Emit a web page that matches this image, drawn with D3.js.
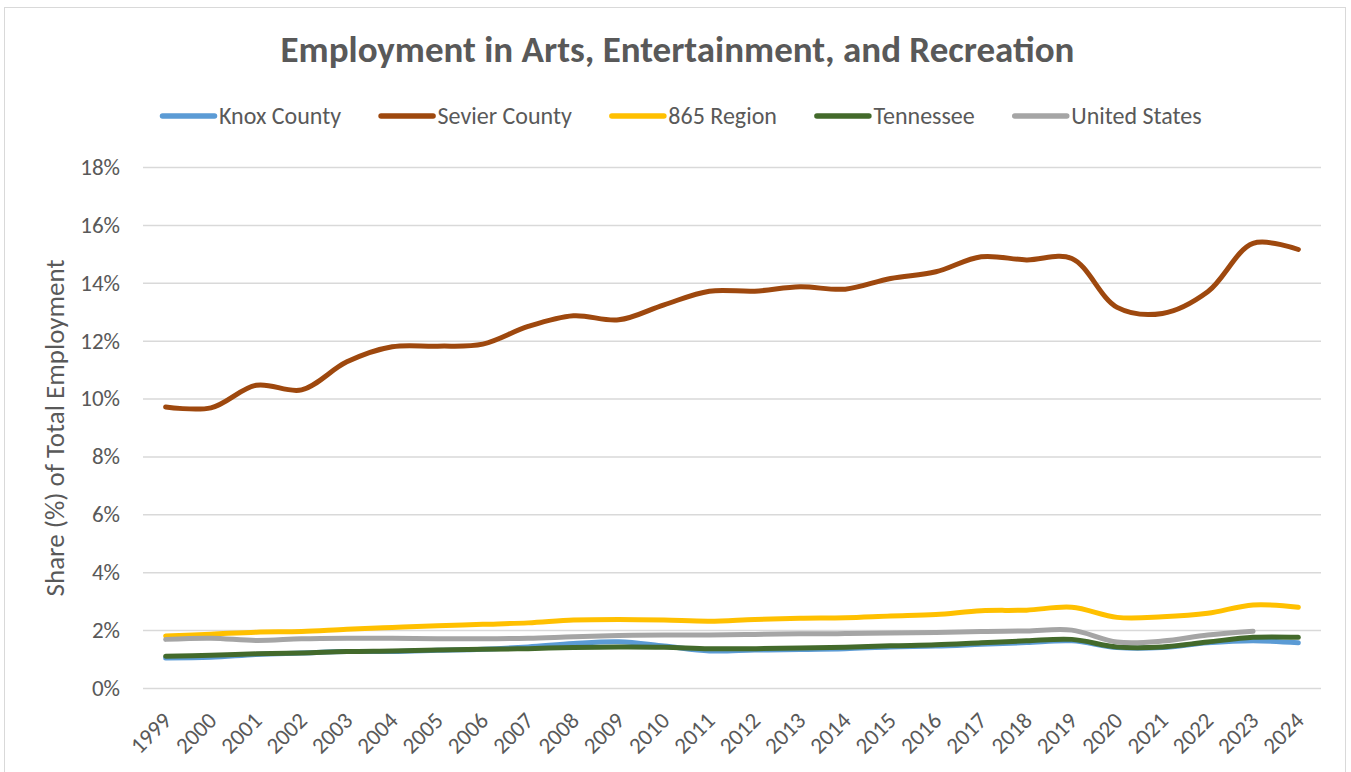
<!DOCTYPE html>
<html>
<head>
<meta charset="utf-8">
<script src="https://cdn.jsdelivr.net/npm/d3@7"></script>
<style>
  body { margin: 0; background: #fff; }
  svg text { font-family: Carlito, Calibri, Lato, "Open Sans", sans-serif; fill: #595959; }
</style>
</head>
<body>
<svg id="chart"></svg>
<script>
// data (percent of total employment)
var years = ["1999","2000","2001","2002","2003","2004","2005","2006","2007","2008","2009","2010","2011",
             "2012","2013","2014","2015","2016","2017","2018","2019","2020","2021","2022","2023","2024"];

var knox = [1.04,1.06,1.16,1.21,1.26,1.26,1.30,1.34,1.42,1.54,1.60,1.45,1.28,
            1.31,1.33,1.36,1.42,1.45,1.51,1.57,1.63,1.40,1.40,1.56,1.63,1.56];
var sevier = [9.71,9.68,10.46,10.30,11.27,11.79,11.81,11.88,12.49,12.86,12.72,13.24,13.71,
              13.71,13.86,13.78,14.15,14.38,14.90,14.79,14.84,13.15,12.94,13.69,15.36,15.15];
var region865 = [1.80,1.86,1.93,1.95,2.03,2.09,2.15,2.20,2.25,2.35,2.37,2.35,2.31,
                 2.37,2.41,2.43,2.49,2.54,2.67,2.69,2.79,2.44,2.46,2.58,2.87,2.79];
var tennessee = [1.10,1.13,1.18,1.21,1.26,1.28,1.31,1.34,1.36,1.40,1.42,1.41,1.36,
                 1.36,1.38,1.41,1.46,1.49,1.56,1.63,1.68,1.42,1.42,1.59,1.75,1.75];
var unitedStates = [1.68,1.72,1.64,1.70,1.72,1.72,1.70,1.70,1.72,1.77,1.81,1.83,1.83,
                    1.85,1.87,1.88,1.90,1.92,1.95,1.97,2.00,1.59,1.62,1.83,1.96,null];

var seriesNames = ["Knox County","Sevier County","865 Region","Tennessee","United States"];
var seriesColors = ["#5b9bd5","#9e480e","#ffc000","#436a2b","#a5a5a5"];
var yTicks = [0,2,4,6,8,10,12,14,16,18];

var series = [knox, sevier, region865, tennessee, unitedStates].map(function(vals, i) {
  return { name: seriesNames[i], color: seriesColors[i],
           values: vals.map(function(v, j) { return { year: years[j], v: v }; }) };
});

var W = 1351, H = 772;
var margin = {top: 167, left: 143};
var width = 1321 - margin.left,
    height = 688 - margin.top;

var svg = d3.select("#chart").attr("width", W).attr("height", H);

// chart frame
svg.append("rect")
  .attr("x", 4.5).attr("y", 7.5)
  .attr("width", 1341).attr("height", 780)
  .attr("fill", "#fff").attr("stroke", "#d9d9d9").attr("stroke-width", 1);

svg.append("text")
  .attr("x", 677.5).attr("y", 62)
  .attr("text-anchor", "middle")
  .style("font-size", "37px").style("font-weight", "bold")
  .text("Employment in Arts, Entertainment, and Recreation");

var g = svg.append("g").attr("transform", "translate(" + margin.left + "," + margin.top + ")");

var x = d3.scaleBand().domain(years).range([0, width]);
var y = d3.scaleLinear().domain([0, 18]).range([height, 0]);

// gridlines + y labels
g.append("g")
  .call(d3.axisLeft(y).tickValues(yTicks).tickSize(-width).tickFormat(function(d) { return d + "%"; }))
  .call(function(a) {
    a.select(".domain").remove();
    a.selectAll(".tick line").attr("stroke", "#d9d9d9").attr("stroke-width", 1.5);
    a.selectAll(".tick text").attr("x", -23).style("font-size", "23px").attr("fill", "#595959");
  });

g.append("g")
  .attr("transform", "translate(0," + height + ")")
  .call(d3.axisBottom(x).tickSize(0))
  .call(function(a) {
    a.select(".domain").remove();
    a.selectAll(".tick text")
      .attr("text-anchor", "end")
      .attr("transform", "translate(7,34) rotate(-45)")
      .attr("x", 0).attr("y", 0).attr("dy", 0)
      .style("font-size", "23px").attr("fill", "#595959");
  });

svg.append("text")
  .attr("transform", "translate(64,428) rotate(-90)")
  .attr("text-anchor", "middle")
  .style("font-size", "27px")
  .text("Share (%) of Total Employment");

var line = d3.line()
  .defined(function(d) { return d.v != null; })
  .x(function(d) { return x(d.year) + x.bandwidth() / 2; })
  .y(function(d) { return y(d.v); })
  .curve(d3.curveCatmullRom.alpha(0.5));

g.selectAll(".serie")
  .data(series)
  .enter().append("path")
    .attr("class", "serie")
    .attr("d", function(d) { return line(d.values); })
    .attr("fill", "none")
    .attr("stroke", function(d) { return d.color; })
    .attr("stroke-width", 5)
    .attr("stroke-linecap", "round")
    .attr("stroke-linejoin", "round");

// legend
var legend = svg.append("g").attr("transform", "translate(160,116)");
var lx = 0;
series.forEach(function(s) {
  var item = legend.append("g").attr("transform", "translate(" + lx + ",0)");
  item.append("line")
    .attr("x1", 2.5).attr("x2", 54.5).attr("y1", 0).attr("y2", 0)
    .attr("stroke", s.color).attr("stroke-width", 5.5).attr("stroke-linecap", "round");
  var t = item.append("text")
    .attr("x", 59).attr("dy", "0.35em")
    .style("font-size", "24px")
    .text(s.name);
  lx += 59 + t.node().getComputedTextLength() + 37.5;
});
</script>
</body>
</html>
